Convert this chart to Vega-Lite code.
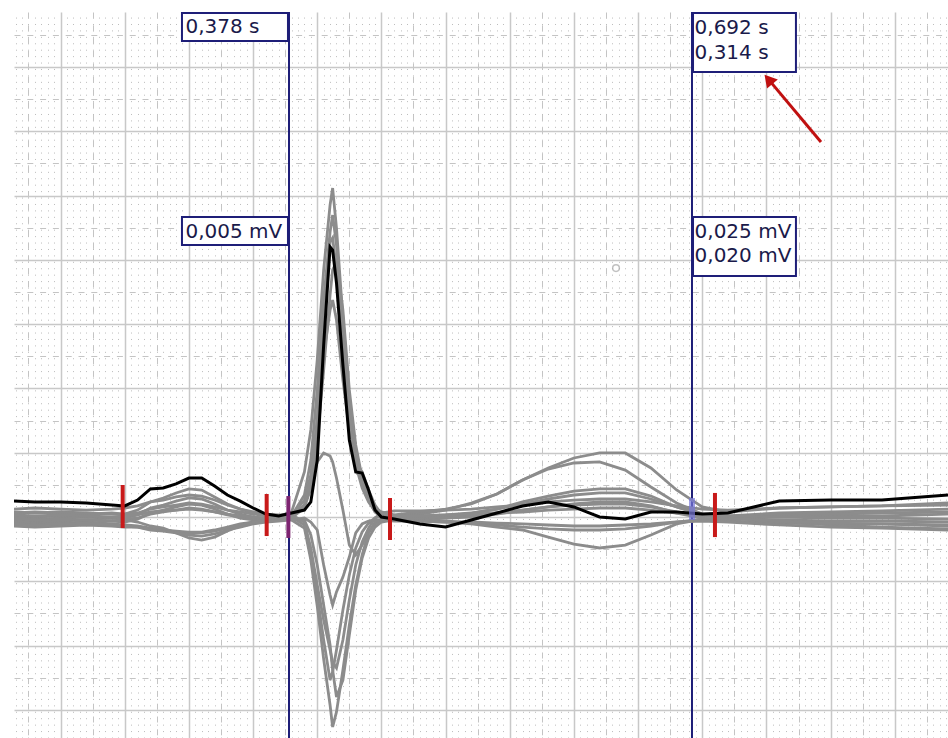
{
"$schema":"https://vega.github.io/schema/vega-lite/v6.json",
"width":934,"height":726,
"autosize":{"type":"none"},
"padding":{"left":14,"top":12,"right":0,"bottom":0},
"background":"white",
"config":{"view":{"stroke":null}},
"datasets":{
"ecg":[
{"t":0.1637,"b":0.124,"g1":0.039,"g2":0.008,"g3":-0.031,"g4":0.031,"g5":-0.047,"g6":-0.008,"n1":-0.070,"n2":-0.016,"n3":0.016,"n4":-0.054,"n5":0.062},
{"t":0.18,"b":0.117,"g1":0.031,"g2":0,"g3":-0.039,"g4":0.039,"g5":-0.054,"g6":-0.016,"n1":-0.078,"n2":-0.023,"n3":0.008,"n4":-0.062,"n5":0.070},
{"t":0.2,"b":0.117,"g1":0.039,"g2":0.008,"g3":-0.031,"g4":0.031,"g5":-0.047,"g6":-0.008,"n1":-0.070,"n2":-0.016,"n3":0.016,"n4":-0.054,"n5":0.062},
{"t":0.22,"b":0.109,"g1":0.031,"g2":0,"g3":-0.023,"g4":0.023,"g5":-0.039,"g6":0,"n1":-0.062,"n2":-0.023,"n3":0.008,"n4":-0.047,"n5":0.054},
{"t":0.24,"b":0.093,"g1":0.023,"g2":-0.008,"g3":-0.031,"g4":0.031,"g5":-0.054,"g6":-0.008,"n1":-0.070,"n2":-0.031,"n3":0,"n4":-0.062,"n5":0.062},
{"t":0.25,"b":0.086,"g1":0.023,"g2":-0.008,"g3":-0.039,"g4":0.023,"g5":-0.062,"g6":-0.016,"n1":-0.078,"n2":-0.023,"n3":0.008,"n4":-0.070,"n5":0.070},
{"t":0.26,"b":0.132,"g1":0.054,"g2":0.016,"g3":-0.016,"g4":0.031,"g5":-0.070,"g6":-0.008,"n1":-0.078,"n2":-0.039,"n3":0.016,"n4":-0.078,"n5":0.086},
{"t":0.27,"b":0.218,"g1":0.117,"g2":0.070,"g3":0.031,"g4":0.062,"g5":-0.086,"g6":0.023,"n1":-0.093,"n2":-0.070,"n3":0.039,"n4":-0.101,"n5":0.117},
{"t":0.28,"b":0.226,"g1":0.148,"g2":0.093,"g3":0.054,"g4":0.078,"g5":-0.101,"g6":0.039,"n1":-0.101,"n2":-0.086,"n3":0.047,"n4":-0.109,"n5":0.132},
{"t":0.29,"b":0.257,"g1":0.187,"g2":0.124,"g3":0.078,"g4":0.093,"g5":-0.109,"g6":0.054,"n1":-0.117,"n2":-0.124,"n3":0.054,"n4":-0.124,"n5":0.156},
{"t":0.3,"b":0.303,"g1":0.218,"g2":0.148,"g3":0.101,"g4":0.109,"g5":-0.117,"g6":0.070,"n1":-0.124,"n2":-0.163,"n3":0.062,"n4":-0.140,"n5":0.171},
{"t":0.31,"b":0.303,"g1":0.210,"g2":0.140,"g3":0.093,"g4":0.101,"g5":-0.117,"g6":0.062,"n1":-0.124,"n2":-0.179,"n3":0.054,"n4":-0.148,"n5":0.163},
{"t":0.32,"b":0.241,"g1":0.156,"g2":0.101,"g3":0.062,"g4":0.078,"g5":-0.101,"g6":0.039,"n1":-0.109,"n2":-0.156,"n3":0.039,"n4":-0.132,"n5":0.132},
{"t":0.33,"b":0.171,"g1":0.101,"g2":0.054,"g3":0.023,"g4":0.054,"g5":-0.078,"g6":0.016,"n1":-0.086,"n2":-0.109,"n3":0.023,"n4":-0.101,"n5":0.093},
{"t":0.34,"b":0.124,"g1":0.062,"g2":0.023,"g3":-0.008,"g4":0.039,"g5":-0.054,"g6":0,"n1":-0.062,"n2":-0.070,"n3":0.008,"n4":-0.078,"n5":0.062},
{"t":0.35,"b":0.070,"g1":0.031,"g2":0,"g3":-0.023,"g4":0.023,"g5":-0.039,"g6":-0.008,"n1":-0.039,"n2":-0.039,"n3":0,"n4":-0.054,"n5":0.039},
{"t":0.36,"b":0.023,"g1":0.016,"g2":-0.008,"g3":-0.031,"g4":0.008,"g5":-0.031,"g6":-0.016,"n1":-0.023,"n2":-0.031,"n3":-0.008,"n4":-0.039,"n5":0.023},
{"t":0.37,"b":0.008,"g1":0.008,"g2":-0.008,"g3":-0.023,"g4":0,"g5":-0.023,"g6":-0.016,"n1":-0.016,"n2":-0.023,"n3":-0.008,"n4":-0.031,"n5":0.016},
{"t":0.38,"b":0.031,"g1":0.039,"g2":0.008,"g3":-0.008,"g4":0.008,"g5":-0.008,"g6":0,"n1":-0.023,"n2":-0.016,"n3":0,"n4":-0.023,"n5":0.016},
{"t":0.39,"b":0.054,"g1":0.350,"g2":0.171,"g3":0.070,"g4":0.132,"g5":0.093,"g6":0.093,"n1":-0.086,"n2":-0.023,"n3":-0.062,"n4":-0.008,"n5":-0.039},
{"t":0.395,"b":0.117,"g1":0.677,"g2":0.443,"g3":0.226,"g4":0.327,"g5":0.226,"g6":0.288,"n1":-0.334,"n2":-0.140,"n3":-0.295,"n4":-0.039,"n5":-0.241},
{"t":0.4,"b":0.443,"g1":1.221,"g2":0.988,"g3":0.599,"g4":0.754,"g5":0.428,"g6":0.754,"n1":-0.692,"n2":-0.373,"n3":-0.607,"n4":-0.101,"n5":-0.529},
{"t":0.405,"b":1.337,"g1":1.921,"g2":1.687,"g3":1.143,"g4":1.260,"g5":0.498,"g6":1.532,"n1":-1.104,"n2":-0.684,"n3":-0.956,"n4":-0.373,"n5":-0.801},
{"t":0.41,"b":2.100,"g1":2.426,"g2":2.216,"g3":1.726,"g4":1.610,"g5":0.474,"g6":2.138,"n1":-1.462,"n2":-0.995,"n3":-1.268,"n4":-0.607,"n5":-1.034},
{"t":0.412,"b":2.076,"g1":2.558,"g2":2.348,"g3":1.921,"g4":1.687,"g5":0.428,"g6":2.170,"n1":-1.633,"n2":-1.190,"n3":-1.205,"n4":-0.684,"n5":-1.128},
{"t":0.415,"b":1.820,"g1":2.247,"g2":2.115,"g3":1.983,"g4":1.532,"g5":0.303,"g6":1.921,"n1":-1.516,"n2":-1.400,"n3":-1.034,"n4":-0.583,"n5":-1.174},
{"t":0.42,"b":1.182,"g1":1.547,"g2":1.454,"g3":1.610,"g4":1.065,"g5":0.054,"g6":1.299,"n1":-1.190,"n2":-1.268,"n3":-0.723,"n4":-0.467,"n5":-0.956},
{"t":0.425,"b":0.599,"g1":0.925,"g2":0.832,"g3":0.988,"g4":0.677,"g5":-0.218,"g6":0.715,"n1":-0.840,"n2":-0.918,"n3":-0.451,"n4":-0.311,"n5":-0.645},
{"t":0.43,"b":0.350,"g1":0.505,"g2":0.459,"g3":0.560,"g4":0.428,"g5":-0.295,"g6":0.404,"n1":-0.529,"n2":-0.568,"n3":-0.241,"n4":-0.124,"n5":-0.373},
{"t":0.435,"b":0.342,"g1":0.272,"g2":0.272,"g3":0.303,"g4":0.350,"g5":-0.218,"g6":0.226,"n1":-0.295,"n2":-0.319,"n3":-0.117,"n4":-0.054,"n5":-0.194},
{"t":0.44,"b":0.210,"g1":0.132,"g2":0.156,"g3":0.132,"g4":0.210,"g5":-0.117,"g6":0.117,"n1":-0.124,"n2":-0.163,"n3":-0.047,"n4":-0.031,"n5":-0.086},
{"t":0.445,"b":0.054,"g1":0.070,"g2":0.078,"g3":0.039,"g4":0.093,"g5":-0.054,"g6":0.047,"n1":-0.039,"n2":-0.078,"n3":-0.008,"n4":-0.023,"n5":-0.008},
{"t":0.45,"b":0,"g1":0.039,"g2":0.031,"g3":0,"g4":0.023,"g5":-0.031,"g6":0.008,"n1":-0.016,"n2":-0.039,"n3":0.008,"n4":-0.023,"n5":0.031},
{"t":0.46,"b":-0.016,"g1":0.016,"g2":0,"g3":-0.016,"g4":0,"g5":-0.023,"g6":-0.008,"n1":-0.008,"n2":-0.023,"n3":0.008,"n4":-0.031,"n5":0.047},
{"t":0.48,"b":-0.054,"g1":0.039,"g2":0.023,"g3":-0.008,"g4":0.008,"g5":-0.016,"g6":0,"n1":-0.016,"n2":-0.031,"n3":0.008,"n4":-0.031,"n5":0.047},
{"t":0.5,"b":-0.078,"g1":0.062,"g2":0.054,"g3":0.008,"g4":0.016,"g5":-0.008,"g6":0,"n1":-0.031,"n2":-0.039,"n3":0.016,"n4":-0.039,"n5":0.054},
{"t":0.52,"b":-0.023,"g1":0.101,"g2":0.109,"g3":0.031,"g4":0.031,"g5":0,"g6":0.016,"n1":-0.047,"n2":-0.054,"n3":0.023,"n4":-0.039,"n5":0.062},
{"t":0.54,"b":0.031,"g1":0.179,"g2":0.179,"g3":0.062,"g4":0.062,"g5":0.023,"g6":0.031,"n1":-0.062,"n2":-0.078,"n3":0.031,"n4":-0.047,"n5":0.078},
{"t":0.56,"b":0.086,"g1":0.288,"g2":0.288,"g3":0.117,"g4":0.101,"g5":0.054,"g6":0.054,"n1":-0.078,"n2":-0.101,"n3":0.039,"n4":-0.054,"n5":0.093},
{"t":0.58,"b":0.117,"g1":0.381,"g2":0.373,"g3":0.163,"g4":0.140,"g5":0.078,"g6":0.078,"n1":-0.093,"n2":-0.156,"n3":0.054,"n4":-0.062,"n5":0.117},
{"t":0.6,"b":0.078,"g1":0.459,"g2":0.420,"g3":0.202,"g4":0.171,"g5":0.101,"g6":0.093,"n1":-0.101,"n2":-0.210,"n3":0.062,"n4":-0.070,"n5":0.132},
{"t":0.62,"b":0,"g1":0.498,"g2":0.428,"g3":0.218,"g4":0.187,"g5":0.117,"g6":0.101,"n1":-0.101,"n2":-0.241,"n3":0.070,"n4":-0.070,"n5":0.140},
{"t":0.64,"b":-0.016,"g1":0.498,"g2":0.365,"g3":0.218,"g4":0.187,"g5":0.117,"g6":0.101,"n1":-0.093,"n2":-0.218,"n3":0.070,"n4":-0.062,"n5":0.140},
{"t":0.66,"b":0.039,"g1":0.381,"g2":0.233,"g3":0.163,"g4":0.140,"g5":0.086,"g6":0.078,"n1":-0.070,"n2":-0.140,"n3":0.054,"n4":-0.054,"n5":0.117},
{"t":0.68,"b":0.039,"g1":0.210,"g2":0.109,"g3":0.078,"g4":0.078,"g5":0.031,"g6":0.039,"n1":-0.039,"n2":-0.054,"n3":0.031,"n4":-0.039,"n5":0.086},
{"t":0.7,"b":0.023,"g1":0.078,"g2":0.023,"g3":0.016,"g4":0.023,"g5":-0.008,"g6":0.008,"n1":-0.016,"n2":-0.016,"n3":0.016,"n4":-0.031,"n5":0.062},
{"t":0.72,"b":0.031,"g1":0.039,"g2":0.008,"g3":-0.008,"g4":-0.008,"g5":-0.031,"g6":0,"n1":-0.008,"n2":-0.008,"n3":0.008,"n4":-0.039,"n5":0.054},
{"t":0.76,"b":0.124,"g1":0.070,"g2":0.031,"g3":0,"g4":-0.023,"g5":-0.047,"g6":0.016,"n1":-0.039,"n2":-0.031,"n3":0,"n4":-0.062,"n5":0.070},
{"t":0.8,"b":0.132,"g1":0.078,"g2":0.039,"g3":0.008,"g4":-0.031,"g5":-0.054,"g6":0.023,"n1":-0.062,"n2":-0.047,"n3":-0.008,"n4":-0.078,"n5":0.078},
{"t":0.84,"b":0.132,"g1":0.086,"g2":0.047,"g3":0.008,"g4":-0.031,"g5":-0.054,"g6":0.031,"n1":-0.078,"n2":-0.054,"n3":-0.008,"n4":-0.086,"n5":0.086},
{"t":0.8915,"b":0.171,"g1":0.109,"g2":0.062,"g3":0.023,"g4":-0.039,"g5":-0.062,"g6":0.039,"n1":-0.093,"n2":-0.070,"n3":-0.016,"n4":-0.101,"n5":0.093}
],
"cursors":[{"t":0.378},{"t":0.692}],
"redticks":[{"t":0.2484,"v1":0.249,"v2":-0.086},{"t":0.3606,"v1":0.179,"v2":-0.148},{"t":0.4567,"v1":0.148,"v2":-0.179},{"t":0.7099,"v1":0.187,"v2":-0.156}],
"purpletick":[{"t":0.3775,"v1":0.163,"v2":-0.163}],
"bluetick":[{"t":0.692,"v1":0.148,"v2":-0.023}],
"boxes":[{"t1":0.2946,"t2":0.3772,"v1":3.919,"v2":3.701},{"t1":0.2946,"t2":0.3772,"v1":2.333,"v2":2.115},{"t1":0.6928,"t2":0.7730,"v1":3.919,"v2":3.460},{"t1":0.6928,"t2":0.7730,"v1":2.333,"v2":1.874}],
"labels":[{"t":0.2973,"v":3.764,"label":"0,378 s"},{"t":0.2973,"v":2.170,"label":"0,005 mV"},{"t":0.6940,"v":3.756,"label":"0,692 s"},{"t":0.6940,"v":3.561,"label":"0,314 s"},{"t":0.6940,"v":2.170,"label":"0,025 mV"},{"t":0.6940,"v":1.983,"label":"0,020 mV"}],
"arrow":[{"t":0.7925,"v":2.916,"t2":0.7516,"v2":3.403}],
"marker":[{"t":0.6328,"v":1.936}]
},
"resolve":{"axis":{"x":"independent","y":"independent"}},
"layer":[
{"data":{"values":[{"t":0.5}]},"mark":{"type":"rule","opacity":0},
 "encoding":{"x":{"field":"t","type":"quantitative","scale":{"domain":[0.16372,0.89148],"nice":false,"zero":false},
  "axis":{"orient":"bottom","grid":true,"gridColor":"#bcbcbc","gridWidth":1,"gridDash":[1,5.428],"tickCount":146,"labels":false,"ticks":false,"domain":false,"title":null}}}},
{"data":{"values":[{"t":0.5,"v":0}]},"mark":{"type":"point","opacity":0},
 "encoding":{"x":{"field":"t","type":"quantitative","scale":{"domain":[0.16372,0.89148],"nice":false,"zero":false},
  "axis":{"orient":"bottom","grid":true,"gridColor":"#c4c4c4","gridWidth":1,"gridDash":[6,6.8],"values":[0.175,0.225,0.275,0.325,0.375,0.425,0.475,0.525,0.575,0.625,0.675,0.725,0.775,0.825,0.875],"labels":false,"ticks":false,"domain":false,"title":null}},
 "y":{"field":"v","type":"quantitative","scale":{"domain":[-1.7185,3.927],"nice":false,"zero":false},
  "axis":{"orient":"left","grid":true,"gridColor":"#c4c4c4","gridWidth":1,"gridDash":[6,6.8],"values":[-1.25,-0.75,-0.25,0.25,0.75,1.25,1.75,2.25,2.75,3.25,3.75],"labels":false,"ticks":false,"domain":false,"title":null}}}},
{"data":{"values":[{"t":0.5,"v":0}]},"mark":{"type":"point","opacity":0},
 "encoding":{"x":{"field":"t","type":"quantitative","scale":{"domain":[0.16372,0.89148],"nice":false,"zero":false},
  "axis":{"orient":"top","grid":true,"gridColor":"#c8c8c8","gridWidth":1.5,"values":[0.2,0.25,0.3,0.35,0.4,0.45,0.5,0.55,0.6,0.65,0.7,0.75,0.8,0.85],"labels":false,"ticks":false,"domain":false,"title":null}},
 "y":{"field":"v","type":"quantitative","scale":{"domain":[-1.7185,3.927],"nice":false,"zero":false},
  "axis":{"orient":"right","grid":true,"gridColor":"#c8c8c8","gridWidth":1.5,"values":[-1.5,-1,-0.5,0,0.5,1,1.5,2,2.5,3,3.5],"labels":false,"ticks":false,"domain":false,"title":null}}}},
{"data":{"name":"cursors"},"mark":{"type":"rule","color":"#1e1e78","strokeWidth":2},
 "encoding":{"x":{"field":"t","type":"quantitative","axis":null}}},
{"data":{"name":"ecg"},
 "transform":[{"fold":["g1","g2","g3","g4","g5","g6","n1","n2","n3","n4","n5"],"as":["trace","mv"]}],
 "mark":{"type":"line","color":"#8c8c8c","strokeWidth":2.8,"clip":true},
 "encoding":{"x":{"field":"t","type":"quantitative","axis":null},"y":{"field":"mv","type":"quantitative","axis":null},"detail":{"field":"trace"}}},
{"data":{"name":"ecg"},
 "mark":{"type":"line","color":"#000000","strokeWidth":3,"clip":true},
 "encoding":{"x":{"field":"t","type":"quantitative","axis":null},"y":{"field":"b","type":"quantitative","axis":null}}},
{"data":{"name":"redticks"},"mark":{"type":"rule","color":"#c81a1a","strokeWidth":4},
 "encoding":{"x":{"field":"t","type":"quantitative","axis":null},"y":{"field":"v1","type":"quantitative","axis":null},"y2":{"field":"v2"}}},
{"data":{"name":"purpletick"},"mark":{"type":"rule","color":"#7d2470","strokeWidth":4},
 "encoding":{"x":{"field":"t","type":"quantitative","axis":null},"y":{"field":"v1","type":"quantitative","axis":null},"y2":{"field":"v2"}}},
{"data":{"name":"bluetick"},"mark":{"type":"rule","color":"#7878d8","strokeWidth":6,"opacity":0.7},
 "encoding":{"x":{"field":"t","type":"quantitative","axis":null},"y":{"field":"v1","type":"quantitative","axis":null},"y2":{"field":"v2"}}},
{"data":{"name":"boxes"},"mark":{"type":"rect","fill":"#ffffff","stroke":"#1e1e78","strokeWidth":2},
 "encoding":{"x":{"field":"t1","type":"quantitative","axis":null},"x2":{"field":"t2"},"y":{"field":"v1","type":"quantitative","axis":null},"y2":{"field":"v2"}}},
{"data":{"name":"labels"},"mark":{"type":"text","align":"left","baseline":"alphabetic","font":"DejaVu Sans","fontSize":20,"color":"#1a1a4a"},
 "encoding":{"x":{"field":"t","type":"quantitative","axis":null},"y":{"field":"v","type":"quantitative","axis":null},"text":{"field":"label"}}},
{"data":{"name":"arrow"},"mark":{"type":"rule","color":"#c01010","strokeWidth":3},
 "encoding":{"x":{"field":"t","type":"quantitative","axis":null},"y":{"field":"v","type":"quantitative","axis":null},"x2":{"field":"t2"},"y2":{"field":"v2"}}},
{"data":{"name":"arrow"},"mark":{"type":"point","shape":"triangle-up","angle":320,"size":200,"filled":true,"color":"#c01010","opacity":1},
 "encoding":{"x":{"field":"t2","type":"quantitative","axis":null},"y":{"field":"v2","type":"quantitative","axis":null}}},
{"data":{"name":"marker"},"mark":{"type":"point","shape":"circle","size":45,"filled":false,"color":"#a8a8a8","strokeWidth":1.5},
 "encoding":{"x":{"field":"t","type":"quantitative","axis":null},"y":{"field":"v","type":"quantitative","axis":null}}}
]
}
